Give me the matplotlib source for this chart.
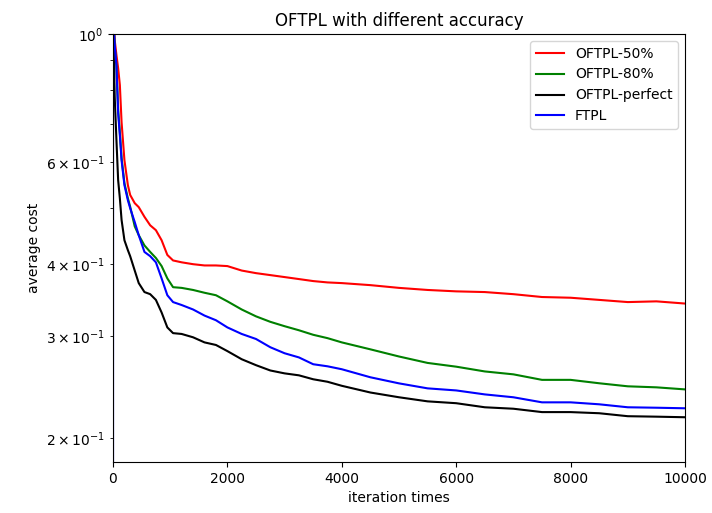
import matplotlib
matplotlib.use("Agg")
import matplotlib.pyplot as plt

# iteration grid used for the readings
iters = [1, 30, 60, 90, 120, 150, 200, 260, 300, 380, 450, 550, 650, 750, 850, 950,
         1050, 1200, 1400, 1600, 1800, 2000, 2250, 2500, 2750, 3000, 3250, 3500, 3750,
         4000, 4500, 5000, 5500, 6000, 6500, 7000, 7500, 8000, 8500, 9000, 9500, 10000]

# OFTPL-50%
cost_50 = [1.10, 0.976, 0.920, 0.873, 0.816, 0.704, 0.605, 0.548, 0.527, 0.510, 0.502,
           0.483, 0.467, 0.458, 0.440, 0.415, 0.406, 0.403, 0.400, 0.398, 0.398, 0.397,
           0.390, 0.386, 0.383, 0.380, 0.377, 0.374, 0.372, 0.371, 0.368, 0.364, 0.361,
           0.359, 0.358, 0.355, 0.351, 0.350, 0.347, 0.344, 0.345, 0.342]

# OFTPL-80%
cost_80 = [1.10, 0.950, 0.880, 0.740, 0.675, 0.610, 0.552, 0.520, 0.503, 0.465, 0.449,
           0.431, 0.420, 0.410, 0.397, 0.378, 0.365, 0.364, 0.361, 0.357, 0.3535, 0.345,
           0.334, 0.325, 0.318, 0.3125, 0.3075, 0.302, 0.298, 0.293, 0.285, 0.277, 0.270,
           0.266, 0.261, 0.258, 0.2524, 0.2524, 0.249, 0.246, 0.245, 0.243]

# OFTPL-perfect
cost_perfect = [1.05, 0.778, 0.656, 0.559, 0.520, 0.477, 0.440, 0.423, 0.413, 0.390, 0.371,
                0.358, 0.355, 0.347, 0.330, 0.311, 0.304, 0.303, 0.299, 0.293, 0.290, 0.283,
                0.274, 0.2676, 0.262, 0.259, 0.257, 0.253, 0.2505, 0.2465, 0.240, 0.2355,
                0.2317, 0.230, 0.2263, 0.225, 0.222, 0.222, 0.221, 0.2184, 0.218, 0.2175]

# FTPL (first value at iteration 0 is ~0)
iters_ftpl = [0] + iters
cost_ftpl = [0.001, 1.10, 0.957, 0.884, 0.730, 0.669, 0.605, 0.548, 0.516, 0.500, 0.473,
             0.449, 0.420, 0.413, 0.403, 0.378, 0.3535, 0.344, 0.340, 0.334, 0.326, 0.320,
             0.311, 0.303, 0.297, 0.2874, 0.2806, 0.276, 0.2686, 0.2664, 0.2633, 0.255,
             0.2489, 0.244, 0.242, 0.2382, 0.2355, 0.2308, 0.2308, 0.229, 0.2263, 0.2259,
             0.2254]

fig = plt.figure(figsize=(7.12, 5.13), dpi=100)
ax = fig.add_axes([0.1587, 0.0994, 0.8034, 0.8343])

ax.plot(iters, cost_50, color='red', label='OFTPL-50%')
ax.plot(iters, cost_80, color='green', label='OFTPL-80%')
ax.plot(iters, cost_perfect, color='black', label='OFTPL-perfect')
ax.plot(iters_ftpl, cost_ftpl, color='blue', label='FTPL')

ax.set_yscale('log')
ax.set_ylim(0.182, 1.0)
ax.set_xlim(0, 10000)
ax.set_xlabel('iteration times')
ax.set_ylabel('average cost')
ax.set_title('OFTPL with different accuracy')
ax.legend(loc='upper right')

fig.savefig('out.png', dpi=100)
